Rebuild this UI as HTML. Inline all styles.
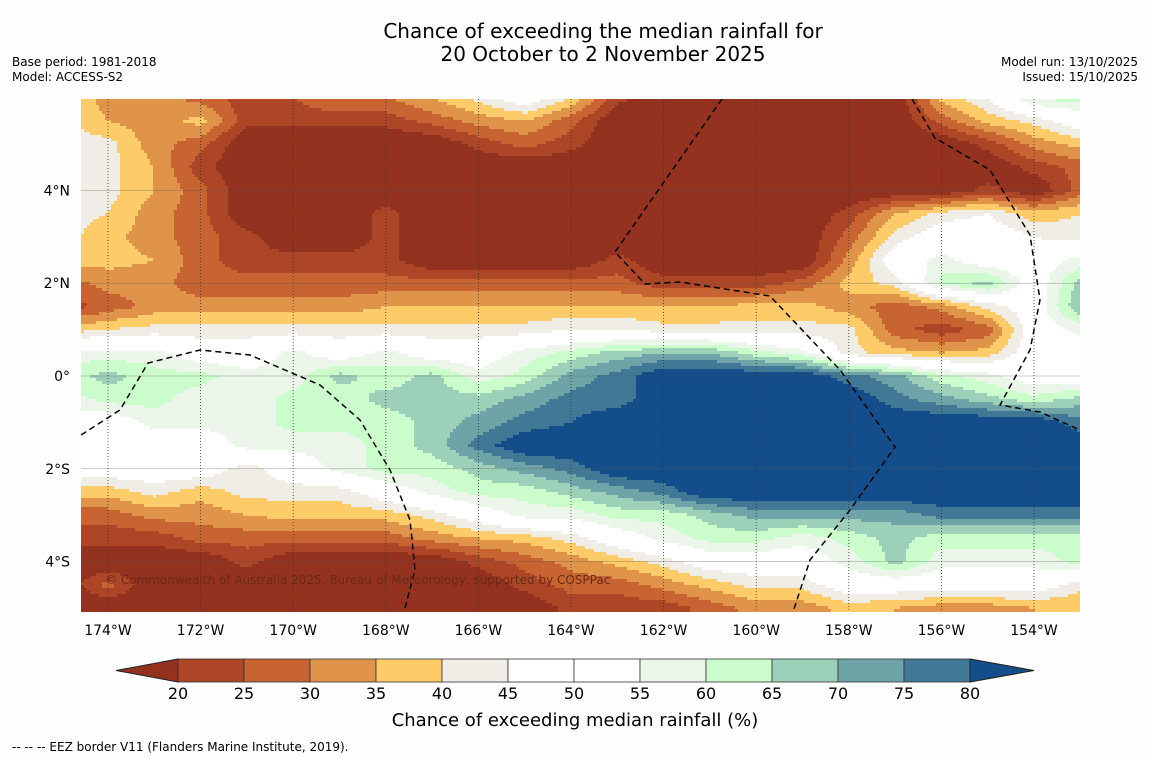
<!DOCTYPE html>
<html><head><meta charset="utf-8"><style>
body{margin:0;background:#fefefe;font-family:"DejaVu Sans","Liberation Sans",sans-serif;}
svg{display:block}
</style></head><body>
<svg id="chart" width="1150" height="758" xmlns="http://www.w3.org/2000/svg" font-family="DejaVu Sans, Liberation Sans, sans-serif">
<rect x="0" y="0" width="1150" height="758" fill="#fefefe"/>
<text x="603" y="38" font-size="20" text-anchor="middle">Chance of exceeding the median rainfall for</text>
<text x="603" y="61" font-size="20" text-anchor="middle">20 October to 2 November 2025</text>
<text x="12" y="66" font-size="12">Base period: 1981-2018</text>
<text x="12" y="81" font-size="12">Model: ACCESS-S2</text>
<text x="1138" y="66" font-size="12" text-anchor="end">Model run: 13/10/2025</text>
<text x="1138" y="81" font-size="12" text-anchor="end">Issued: 15/10/2025</text>
<defs><clipPath id="mapclip"><rect x="81" y="99" width="999" height="513"/></clipPath></defs>
<g id="field" clip-path="url(#mapclip)"></g>
<g id="grid"></g>
<g clip-path="url(#mapclip)" fill="none" stroke="#000" stroke-width="1.5" stroke-dasharray="6,4">
<polyline points="81,435 120,410 148,363 200,350 250,355 320,385 360,420 390,470 410,520 415,570 405,608"/>
<polyline points="722,99 615,252 645,284 680,282 770,296 840,370 895,447 850,510 810,560 793,612"/>
<polyline points="912,99 935,138 990,170 1030,235 1040,300 1030,350 1000,405 1040,412 1080,430"/>
</g>
<text x="105" y="584" font-size="12" fill="#6b2a15">© Commonwealth of Australia 2025, Bureau of Meteorology, supported by COSPPac</text>
<g id="xticks"></g>
<g id="yticks"></g>
<g id="cbar"></g>
<text x="575" y="726" font-size="18" text-anchor="middle">Chance of exceeding median rainfall (%)</text>
<text x="12" y="751" font-size="12">--  --  -- EEZ border V11 (Flanders Marine Institute, 2019).</text>
</svg>
<script>
const lons=[-175,-174,-173,-172,-171,-170,-169,-168,-167,-166,-165,-164,-163,-162,-161,-160,-159,-158,-157,-156,-155,-154,-153];
const lats=[6,5.5,5,4.5,4,3.5,3,2.5,2,1.5,1,0.5,0,-0.5,-1,-1.5,-2,-2.5,-3,-3.5,-4,-4.5,-5];
const row6  =[42,32,32,28,22,25,30,30,35,42,50,40,22,15,15,15,15,15,15,37,45,62,62];
const row55 =[42,35,32,37,22,22,22,22,27,32,35,27,15,15,15,15,15,15,15,27,37,42,50];
const row5  =[42,42,32,27,15,15,15,15,15,22,27,22,15,15,15,15,15,15,15,15,22,32,37];
const row45 =[42,42,35,22,15,15,15,15,15,15,15,15,15,15,15,15,15,15,15,15,15,22,27];
const row4  =[42,42,35,27,15,15,15,15,15,15,15,15,15,15,15,15,15,15,15,15,22,15,27];
const row35 =[42,40,32,27,15,15,15,22,15,15,15,15,15,15,15,15,15,22,35,42,45,37,40];
const row3  =[42,37,32,27,22,15,15,22,15,15,15,15,15,15,15,15,15,27,42,50,50,45,42];
const row25 =[37,37,35,27,22,22,22,22,15,15,15,15,22,15,15,15,15,32,50,57,50,50,57];
const row2  =[27,32,32,27,27,27,27,27,27,27,27,27,27,22,22,22,27,37,42,62,67,50,67];
const row15 =[22,27,32,32,32,32,32,35,35,35,35,35,35,35,35,37,37,32,27,32,42,50,70];
const row1  =[37,40,42,42,42,42,42,42,42,42,42,45,45,42,42,42,42,42,27,22,27,50,57];
const row05 =[57,57,57,50,50,57,50,57,50,50,57,62,67,70,70,62,57,42,37,35,37,50,50];
const row0  =[62,67,62,62,57,57,67,62,67,57,62,72,77,85,85,85,85,77,72,62,57,50,50];
const rowm05=[57,62,62,57,57,62,62,67,67,67,72,77,77,85,85,85,85,85,77,72,67,62,67];
const rowm1 =[50,50,57,57,57,62,62,62,67,72,77,80,85,85,85,85,85,85,85,85,85,85,77];
const rowm15=[50,50,50,50,57,57,57,62,67,77,85,85,85,85,85,85,85,85,85,85,85,85,85];
const rowm2 =[50,50,50,50,42,50,57,62,62,67,72,77,85,85,85,85,85,85,85,85,85,85,85];
const rowm25=[37,37,42,37,42,42,42,50,57,62,62,67,72,77,85,85,85,85,85,85,85,85,85];
const rowm3 =[27,27,32,32,35,37,37,37,42,50,57,57,62,62,67,72,72,72,72,77,77,77,77];
const rowm35=[22,22,22,27,27,27,27,27,32,35,37,42,50,57,62,62,57,62,67,62,62,62,62];
const rowm4 =[15,15,15,15,22,15,15,15,15,22,27,32,37,42,50,50,50,57,67,57,57,57,62];
const rowm45=[15,27,15,15,15,15,15,15,15,15,22,27,27,32,37,42,42,50,50,50,50,50,42];
const rowm5 =[15,15,15,15,15,15,15,15,15,15,15,22,22,22,27,32,32,37,35,32,32,35,35];
const values=[row6,row55,row5,row45,row4,row35,row3,row25,row2,row15,row1,row05,row0,rowm05,rowm1,rowm15,rowm2,rowm25,rowm3,rowm35,rowm4,rowm45,rowm5];
const levels=[20,25,30,35,40,45,50,55,60,65,70,75,80];
const colors=["#943220","#ad4527","#c86432","#e0944a","#fecb69","#f0ece6","#ffffff","#ffffff","#ebf5ea","#cbfccb","#9dd0b9","#6ea4a8","#417896","#144e8a"];
const xTicks=[-174,-172,-170,-168,-166,-164,-162,-160,-158,-156,-154];
const yTicks=[4,2,0,-2,-4];
const yTickLabels=["4°N","2°N","0°","2°S","4°S"];

const NS="http://www.w3.org/2000/svg";
const xOf=lon=>108+(lon+174)*46.3;
const yOf=lat=>376-lat*46.4;
const lonOf=x=>(x-108)/46.3-174;
const latOf=y=>(376-y)/46.4;
function colorFor(v){let i=0;while(i<levels.length&&v>=levels[i])i++;return colors[i];}
function sample(lon,lat){
  let fi=(lon-lons[0])/(lons[1]-lons[0]); let fj=(lats[0]-lat)/(lats[0]-lats[1]);
  fi=Math.max(0,Math.min(lons.length-1.0001,fi)); fj=Math.max(0,Math.min(lats.length-1.0001,fj));
  const i=Math.floor(fi),j=Math.floor(fj),a=fi-i,b=fj-j;
  const v00=values[j][i],v01=values[j][i+1],v10=values[j+1][i],v11=values[j+1][i+1];
  return (v00*(1-a)+v01*a)*(1-b)+(v10*(1-a)+v11*a)*b;
}
const field=document.getElementById('field');
const step=3;
for(let y=99;y<612;y+=step){
  let runStart=81,runCol=null;
  for(let x=81;x<=1080;x+=step){
    const c=x<1080?colorFor(sample(lonOf(x+step/2),latOf(y+step/2))):null;
    if(c!==runCol){
      if(runCol!==null){
        const r=document.createElementNS(NS,'rect');
        r.setAttribute('x',runStart);r.setAttribute('y',y);
        r.setAttribute('width',x-runStart+0.5);r.setAttribute('height',step+0.5);
        r.setAttribute('fill',runCol);
        
        
        field.appendChild(r);
      }
      runStart=x;runCol=c;
    }
  }
}
const grid=document.getElementById('grid'),xt=document.getElementById('xticks'),yt=document.getElementById('yticks');
xTicks.forEach(lon=>{
  const x=xOf(lon);
  const l=document.createElementNS(NS,'line');
  l.setAttribute('x1',x);l.setAttribute('x2',x);l.setAttribute('y1',99);l.setAttribute('y2',612);
  l.setAttribute('stroke','#333');l.setAttribute('stroke-width','0.8');l.setAttribute('stroke-dasharray','1,2');
  
  
  grid.appendChild(l);
  const t=document.createElementNS(NS,'text');
  t.setAttribute('x',x);t.setAttribute('y',635);t.setAttribute('font-size','14');t.setAttribute('text-anchor','middle');
  t.textContent=Math.abs(lon)+'°W';
  
  
  xt.appendChild(t);
});
yTicks.forEach((lat,i)=>{
  const y=yOf(lat);
  const l=document.createElementNS(NS,'line');
  l.setAttribute('x1',81);l.setAttribute('x2',1080);l.setAttribute('y1',y);l.setAttribute('y2',y);
  l.setAttribute('stroke','#555');l.setAttribute('stroke-width','0.5');l.setAttribute('opacity','0.6');
  
  
  grid.appendChild(l);
  const t=document.createElementNS(NS,'text');
  t.setAttribute('x',70);t.setAttribute('y',y+5);t.setAttribute('font-size','14');t.setAttribute('text-anchor','end');
  t.textContent=yTickLabels[i];
  
  
  yt.appendChild(t);
});
const cb=document.getElementById('cbar');
const cx0=178,cw=66,cy=659,ch=23;
const tri1=document.createElementNS(NS,'polygon');
tri1.setAttribute('points',`116,${cy+ch/2} ${cx0},${cy} ${cx0},${cy+ch}`);tri1.setAttribute('fill',colors[0]);tri1.setAttribute('stroke','#222');


cb.appendChild(tri1);
for(let i=0;i<levels.length-1;i++){
  const r=document.createElementNS(NS,'rect');
  r.setAttribute('x',cx0+i*cw);r.setAttribute('y',cy);r.setAttribute('width',cw);r.setAttribute('height',ch);
  r.setAttribute('fill',colors[i+1]);r.setAttribute('stroke','#333');r.setAttribute('stroke-width','0.8');
  
  
  cb.appendChild(r);
}
const xe=cx0+(levels.length-1)*cw;
const tri2=document.createElementNS(NS,'polygon');
tri2.setAttribute('points',`${xe},${cy} 1034,${cy+ch/2} ${xe},${cy+ch}`);tri2.setAttribute('fill',colors[colors.length-1]);tri2.setAttribute('stroke','#222');


cb.appendChild(tri2);
levels.forEach((lv,i)=>{
  const t=document.createElementNS(NS,'text');
  t.setAttribute('x',cx0+i*cw);t.setAttribute('y',699);t.setAttribute('font-size','16');t.setAttribute('text-anchor','middle');
  t.textContent=lv;
  
  
  cb.appendChild(t);
});
</script>
</body></html>
